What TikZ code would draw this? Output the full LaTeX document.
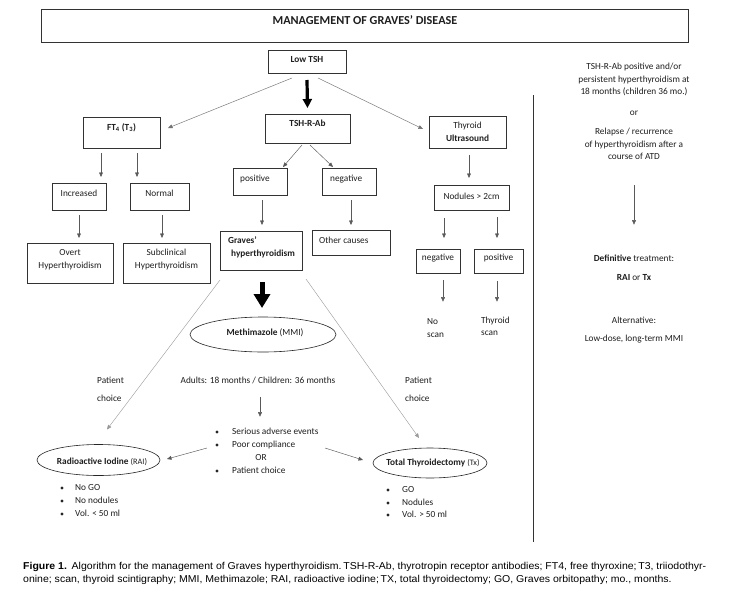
\documentclass[tikz,border=0pt]{standalone}
\usepackage{fontspec}
\usepackage{graphicx}
\setmainfont{Carlito}
\newfontfamily\capfont{Liberation Sans}
\usetikzlibrary{arrows.meta,shapes.geometric,calc}
\newsavebox\capboxA
\newsavebox\capboxB
\begin{document}
\sbox\capboxA{\capfont\fontsize{10}{12}\selectfont\textbf{Figure 1.}\hspace{0.45em}Algorithm for the management of Graves hyperthyroidism.\,TSH-R-Ab, thyrotropin receptor antibodies; FT4, free thyroxine;\,T3, triiodothyr-}%
\sbox\capboxB{\capfont\fontsize{10}{12}\selectfont onine; scan, thyroid scintigraphy; MMI, Methimazole; RAI, radioactive iodine;\,TX, total thyroidectomy; GO, Graves orbitopathy; mo., months.}%
\pgfmathsetmacro\capscale{683/\the\wd\capboxA}%
\begin{tikzpicture}[x=1pt,y=-1pt,
  box/.style={draw=black!80, line width=0.6pt, inner sep=0pt, outer sep=0pt},
  oval/.style={draw=black!85, line width=0.6pt, ellipse, inner sep=0pt, outer sep=0pt},
  txt/.style={font=\fontsize{9.3}{11}\selectfont, text=black!88, inner sep=0pt, text height=6.3pt, text depth=1.9pt},
  txtb/.style={txt, font=\fontsize{9.3}{11}\selectfont\bfseries},
  arr/.style={draw=black!65, line width=0.45pt, -{Triangle[length=4.5pt,width=3.8pt]}},
  diag/.style={draw=black!40, line width=0.4pt, -{Triangle[length=4.5pt,width=3.8pt]}},
  thickarr/.style={draw=black, line width=3.2pt, -{Triangle[length=9pt,width=9pt]}},
  bigarr/.style={draw=black, line width=5pt, -{Triangle[length=14pt,width=16pt]}},
  dot/.style={circle, fill=black!85, inner sep=0pt, minimum size=3.2pt}
]
\useasboundingbox (0,0) rectangle (740,595);
\fill[white] (0,0) rectangle (740,595);

% title
\node[box, minimum width=647, minimum height=33] (title) at (364.5,25.5) {};
\node[txtb, font=\fontsize{12.2}{14}\selectfont\bfseries] (titlet) at (365,22.5) {MANAGEMENT OF GRAVES’ DISEASE};

% top level
\node[box, minimum width=78, minimum height=23] (lowtsh) at (307,61.5) {};
\node[txtb] (lowtsht) at (307,60.5) {Low TSH};

\node[box, minimum width=77, minimum height=31] (ft4) at (121.5,132.5) {};
\node[txtb] (ft4t) at (121.5,128) {FT\textsubscript{4} (T\textsubscript{3})};
\node[box, minimum width=85, minimum height=29] (tshrab) at (307.5,128.5) {};
\node[txtb] (tshrabt) at (307.5,124.5) {TSH-R-Ab};
\node[box, minimum width=77, minimum height=32] (us) at (467.5,132) {};
\node[txt] (ust1) at (467.5,126) {Thyroid};
\node[txtb] (ust2) at (467.5,139) {Ultrasound};

% left branch
\node[box, minimum width=54, minimum height=27] (incr) at (79,196.5) {};
\node[txt] (incrt) at (79,194) {Increased};
\node[box, minimum width=59, minimum height=27] (norm) at (159.5,196.5) {};
\node[txt] (normt) at (159.5,194) {Normal};
\node[box, minimum width=86, minimum height=40] (overt) at (70,263) {};
\node[txt] (overt1) at (70,253) {Overt};
\node[txt] (overt2) at (70,266) {Hyperthyroidism};
\node[box, minimum width=87, minimum height=40] (subcl) at (166.5,263) {};
\node[txt] (subcl1) at (166.5,253) {Subclinical};
\node[txt] (subcl2) at (166.5,266) {Hyperthyroidism};

% middle branch
\node[box, minimum width=54, minimum height=27] (pos) at (260,181.5) {};
\node[txt, anchor=west] (post) at (240,179) {positive};
\node[box, minimum width=54, minimum height=27] (neg) at (349,181.5) {};
\node[txt, anchor=west] (negt) at (330,179) {negative};
\node[box, minimum width=82, minimum height=39] (graves) at (261,250.5) {};
\node[txtb, anchor=west] (graves1) at (228,241) {Graves’};
\node[txtb, anchor=west] (graves2) at (231,254) {hyperthyroidism};
\node[box, minimum width=78, minimum height=25] (other) at (351,242.5) {};
\node[txt, anchor=west] (othert) at (319,241) {Other causes};

% right branch
\node[box, minimum width=75, minimum height=25] (nod) at (471.5,197.5) {};
\node[txt] (nodt) at (471.5,197) {Nodules > 2cm};
\node[box, minimum width=44, minimum height=24] (neg2) at (438,261) {};
\node[txt] (neg2t) at (438,258) {negative};
\node[box, minimum width=49, minimum height=24] (pos2) at (498.5,261) {};
\node[txt] (pos2t) at (498.5,258) {positive};
\node[txt, anchor=west] (noscan1) at (427,322) {No};
\node[txt, anchor=west] (noscan2) at (427,335) {scan};
\node[txt, anchor=west] (thys1) at (481,321) {Thyroid};
\node[txt, anchor=west] (thys2) at (481,333) {scan};

% treatment
\node[oval, minimum width=146, minimum height=35] (mmi) at (263,334.5) {};
\node[txt] (mmit) at (265,333) {\textbf{Methimazole} (MMI)};
\node[txt, anchor=west] (pc1) at (97,381) {Patient};
\node[txt, anchor=west] (pc2) at (97,399) {choice};
\node[txt, anchor=west] (pc3) at (405,381) {Patient};
\node[txt, anchor=west] (pc4) at (405,399) {choice};
\node[txt] (adults) at (258,381) {Adults: 18 months / Children: 36 months};

\node[dot] (bd1) at (217,432) {};
\node[dot] (bd2) at (217,445) {};
\node[dot] (bd3) at (217,471) {};
\node[txt, anchor=west] (b1) at (232,432) {Serious adverse events};
\node[txt, anchor=west] (b2) at (232,445) {Poor compliance};
\node[txt] (bor) at (261,458) {OR};
\node[txt, anchor=west] (b3) at (232,471) {Patient choice};

\node[oval, minimum width=123, minimum height=31] (rai) at (98.5,460) {};
\node[txt] (rait) at (102,462) {\textbf{Radioactive Iodine} {\fontsize{8.3}{10}\selectfont(RAI)}};
\node[dot] (rd1) at (62,488) {};
\node[dot] (rd2) at (62,501) {};
\node[dot] (rd3) at (62,514) {};
\node[txt, anchor=west] (r1t) at (75,488) {No GO};
\node[txt, anchor=west] (r2t) at (75,501) {No nodules};
\node[txt, anchor=west] (r3t) at (75,514) {Vol. < 50 ml};

\node[oval, minimum width=114, minimum height=30] (tx) at (430,463) {};
\node[txt] (txt1) at (433,463) {\textbf{Total Thyroidectomy} {\fontsize{8.3}{10}\selectfont(Tx)}};
\node[dot] (td1) at (388,490) {};
\node[dot] (td2) at (388,503) {};
\node[dot] (td3) at (388,515) {};
\node[txt, anchor=west] (t1t) at (402,490) {GO};
\node[txt, anchor=west] (t2t) at (402,503) {Nodules};
\node[txt, anchor=west] (t3t) at (402,515) {Vol. > 50 ml};

% right column
\draw[black!80, line width=0.6pt] (533,95) -- (533,542);
\node[txt] (rc1) at (634,67) {TSH-R-Ab positive and/or};
\node[txt] (rc2) at (634,80) {persistent hyperthyroidism at};
\node[txt] (rc3) at (634,92.5) {18 months (children 36 mo.)};
\node[txt] (rc4) at (634,113) {or};
\node[txt] (rc5) at (634,132) {Relapse / recurrence};
\node[txt] (rc6) at (634,145) {of hyperthyroidism after a};
\node[txt] (rc7) at (634,157.5) {course of ATD};
\node[txt] (rc8) at (634,259) {\textbf{Definitive} treatment:};
\node[txt] (rc9) at (634,278) {\textbf{RAI} or \textbf{Tx}};
\node[txt] (rc10) at (634,321) {Alternative:};
\node[txt] (rc11) at (634,339) {Low-dose, long-term MMI};

% connectors
\draw[thickarr] ($(lowtsh.south)+(0,7)$) -- ($(tshrab.north)+(0,-6)$);
\draw[arr, draw=black!55] ($(lowtsh.south)+(-15,5)$) -- ($(ft4.east)+(8,-4.5)$);
\draw[arr, draw=black!55] ($(lowtsh.south)+(11,5)$) -- ($(us.west)+(-6,-3)$);
\draw[arr] ($(ft4.south)+(-20.5,5)$) -- ($(incr.north)+(22,-6)$);
\draw[arr] ($(ft4.south)+(15.5,5)$) -- ($(norm.north)+(-22.5,-6)$);
\draw[arr] ($(incr.south)+(0,5)$) -- ($(overt.north)+(9,-5)$);
\draw[arr] ($(norm.south)+(2.5,5)$) -- ($(subcl.north)+(-4.5,-5)$);
\draw[arr] ($(tshrab.south)+(-5.5,2)$) -- ($(pos.north)+(23,-1)$);
\draw[arr] ($(tshrab.south)+(2.5,2)$) -- ($(neg.north)+(-16,-1)$);
\draw[arr] ($(pos.south)+(2,5)$) -- ($(graves.north)+(1,-6)$);
\draw[arr] ($(neg.south)+(2,5)$) -- ($(other.north)+(0,-5)$);
\draw[arr] ($(us.south)+(1.5,7)$) -- ($(nod.north)+(-2.5,-7)$);
\draw[arr] ($(nod.south)+(-27.5,8)$) -- ($(neg2.north)+(6,-11)$);
\draw[arr] ($(nod.south)+(25.5,7)$) -- ($(pos2.north)+(-1.5,-11)$);
\draw[arr] ($(neg2.south)+(5,7)$) -- ($(noscan1.north west)+(16,-16)$);
\draw[arr] ($(pos2.south)+(-1.5,8)$) -- ($(thys1.north west)+(16,-15)$);
\draw[bigarr] ($(graves.south)+(1,12)$) -- ($(mmi.north)+(-1,-9)$);
\draw[diag] ($(graves.south west)+(0,10)$) -- ($(rai.north)+(8.5,-15)$);
\draw[diag] ($(graves.south east)+(4,9)$) -- ($(tx.north)+(-11,-10)$);
\draw[arr] ($(adults.south)+(2,12)$) -- ($(b1.north west)+(28,-11)$);
\draw[arr] ($(bd2.center)+(-10,3)$) -- ($(rai.east)+(7,-1)$);
\draw[arr] ($(b2.west)+(93,3)$) -- ($(tx.west)+(-10,-3)$);
\draw[arr] ($(rc7.south)+(0,23.5)$) -- ($(rc8.north)+(0,-30)$);

% caption
\node[anchor=west, inner sep=0pt, text=black!90] (cap1) at (23,567) {\scalebox{\capscale}[1]{\usebox\capboxA}};
\node[anchor=west, inner sep=0pt, text=black!90] (cap2) at (23,580) {\scalebox{\capscale}[1]{\usebox\capboxB}};
\end{tikzpicture}
\end{document}
